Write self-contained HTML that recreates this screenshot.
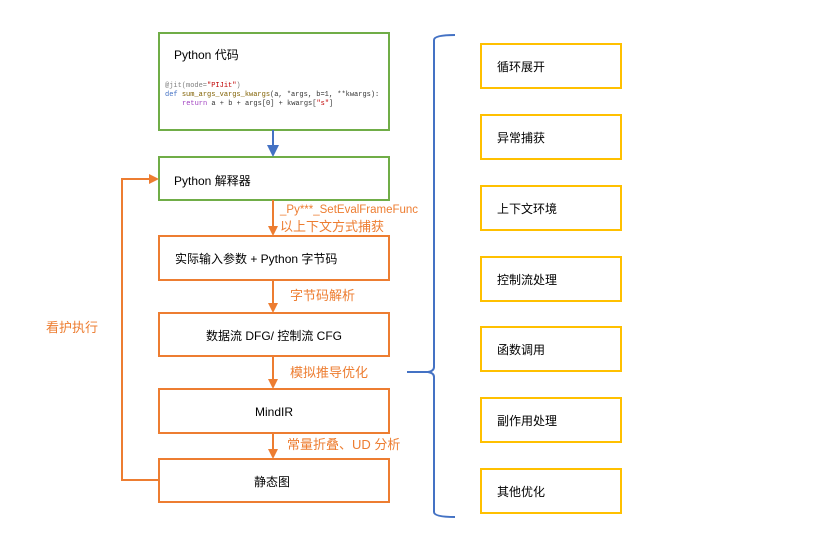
<!DOCTYPE html>
<html><head><meta charset="utf-8"><style>
body{margin:0;background:#fff}
svg{display:block}
text{font-family:"Liberation Sans","Noto Sans CJK SC",sans-serif}
text.mono{font-family:"Liberation Mono",monospace}
</style></head><body>
<svg width="832" height="534" viewBox="0 0 832 534" xmlns="http://www.w3.org/2000/svg">
<defs>
<marker id="ao" markerWidth="10" markerHeight="10" refX="8" refY="5" orient="auto" markerUnits="userSpaceOnUse"><path d="M0,0 L10,5 L0,10 z" fill="#ed7d31"/></marker>
<marker id="ab" markerWidth="12" markerHeight="12" refX="10" refY="6" orient="auto" markerUnits="userSpaceOnUse"><path d="M0,0 L12,6 L0,12 z" fill="#4472c4"/></marker>
</defs>
<g fill="none" stroke-width="2">
<rect x="159" y="33" width="230" height="97" stroke="#70ad47"/>
<rect x="159" y="157" width="230" height="43" stroke="#70ad47"/>
<rect x="159" y="236" width="230" height="44" stroke="#ed7d31"/>
<rect x="159" y="313" width="230" height="43" stroke="#ed7d31"/>
<rect x="159" y="389" width="230" height="44" stroke="#ed7d31"/>
<rect x="159" y="459" width="230" height="43" stroke="#ed7d31"/>
<g stroke="#ffc000">
<rect x="481" y="44" width="140" height="44"/>
<rect x="481" y="115" width="140" height="44"/>
<rect x="481" y="186" width="140" height="44"/>
<rect x="481" y="257" width="140" height="44"/>
<rect x="481" y="327" width="140" height="44"/>
<rect x="481" y="398" width="140" height="44"/>
<rect x="481" y="469" width="140" height="44"/>
</g>
<line x1="273" y1="130" x2="273" y2="155" stroke="#4472c4" marker-end="url(#ab)"/>
<g stroke="#ed7d31">
<line x1="273" y1="200" x2="273" y2="234" marker-end="url(#ao)"/>
<line x1="273" y1="280" x2="273" y2="311" marker-end="url(#ao)"/>
<line x1="273" y1="356" x2="273" y2="387" marker-end="url(#ao)"/>
<line x1="273" y1="433" x2="273" y2="457" marker-end="url(#ao)"/>
<polyline points="159,480 122,480 122,179 157,179" marker-end="url(#ao)"/>
</g>
<path d="M455,35 Q434,35 434,40 L434,367 Q434,371 428,372 L407,372 M428,372 Q434,373 434,377 L434,512 Q434,517 455,517" stroke="#4472c4"/>
</g>
<g font-size="12" fill="#000">
<text x="174" y="59">Python 代码</text>
<text x="174" y="185">Python 解释器</text>
<text x="175" y="263">实际输入参数 + Python 字节码</text>
<text x="206" y="340">数据流 DFG/ 控制流 CFG</text>
<text x="255" y="416">MindIR</text>
<text x="254" y="486">静态图</text>
<text x="497" y="71">循环展开</text>
<text x="497" y="142">异常捕获</text>
<text x="497" y="213">上下文环境</text>
<text x="497" y="284">控制流处理</text>
<text x="497" y="354">函数调用</text>
<text x="497" y="425">副作用处理</text>
<text x="497" y="496">其他优化</text>
</g>
<g font-size="7">
<text class="mono" x="165" y="87" fill="#7f7f7f">@jit(mode=<tspan fill="#c00000">"PIJit"</tspan>)</text>
<text class="mono" x="165" y="96" fill="#4472c4">def <tspan fill="#806000">sum_args_vargs_kwargs</tspan><tspan fill="#333">(a, *args, b=1, **kwargs):</tspan></text>
<text class="mono" x="182" y="105" fill="#a040c0">return <tspan fill="#333">a + b + args[0] + kwargs[</tspan><tspan fill="#c00000">"s"</tspan><tspan fill="#333">]</tspan></text>
</g>
<g fill="#ed7d31" font-size="13">
<text x="280" y="213" font-size="11.5">_Py***_SetEvalFrameFunc</text>
<text x="280" y="231">以上下文方式捕获</text>
<text x="290" y="300">字节码解析</text>
<text x="290" y="377">模拟推导优化</text>
<text x="287" y="449">常量折叠、UD 分析</text>
<text x="46" y="332">看护执行</text>
</g>
</svg>
</body></html>
